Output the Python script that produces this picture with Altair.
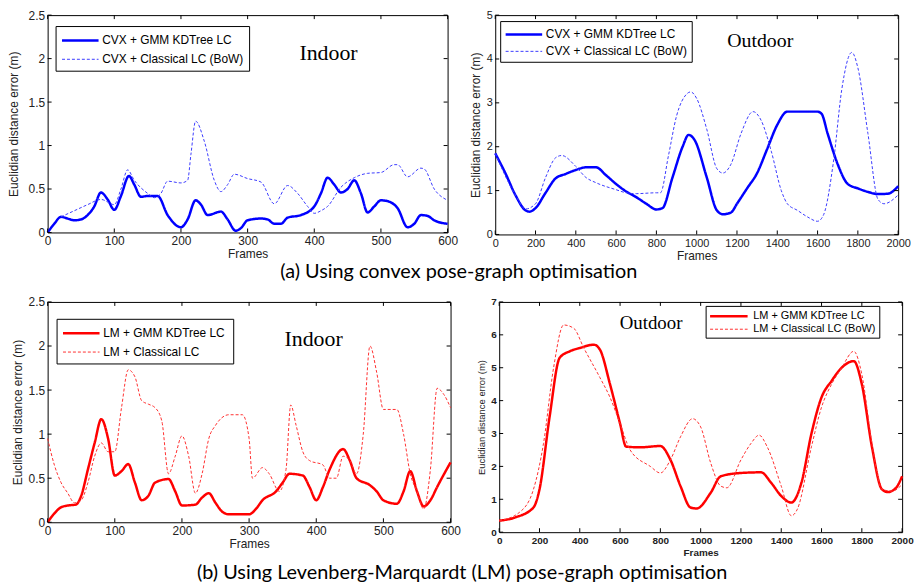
import altair as alt
import pandas as pd

# ---------------- (a) CVX, Indoor ----------------
a_in_gmm_x = [0, 10, 20, 30, 40, 50, 60, 70, 80, 90, 100, 110, 122, 130, 140, 150, 165, 180, 200, 210, 222, 230, 240,
              260, 270, 282, 290, 300, 320, 330, 340, 350, 360, 380, 400, 410, 420, 430, 440, 450, 460, 470, 480, 490,
              500, 510, 525, 540, 550, 560, 570, 580, 600]
a_in_gmm_y = [0.0, 0.1, 0.18, 0.16, 0.14, 0.15, 0.2, 0.3, 0.46, 0.38, 0.26, 0.42, 0.65, 0.55, 0.41, 0.42, 0.42, 0.2,
              0.06, 0.15, 0.37, 0.32, 0.2, 0.24, 0.15, 0.02, 0.05, 0.14, 0.16, 0.15, 0.1, 0.1, 0.17, 0.2, 0.3, 0.45,
              0.63, 0.55, 0.46, 0.5, 0.6, 0.45, 0.23, 0.3, 0.37, 0.36, 0.28, 0.06, 0.1, 0.2, 0.19, 0.14, 0.1]
a_in_bow_x = [20, 40, 60, 80, 100, 110, 120, 130, 150, 160, 170, 180, 200, 210, 215, 222, 235, 250, 260, 270, 280,
              300, 320, 340, 360, 375, 390, 400, 410, 420, 440, 460, 480, 500, 520, 525, 540, 560, 565, 580, 600]
a_in_bow_y = [0.18, 0.25, 0.32, 0.38, 0.32, 0.5, 0.72, 0.6, 0.45, 0.4, 0.45, 0.59, 0.57, 0.6, 0.9, 1.28, 1.05, 0.6,
              0.47, 0.55, 0.67, 0.62, 0.58, 0.33, 0.54, 0.45, 0.3, 0.22, 0.25, 0.3, 0.52, 0.63, 0.68, 0.69, 0.78, 0.78,
              0.64, 0.74, 0.73, 0.5, 0.37]

# ---------------- (a) CVX, Outdoor ----------------
a_out_gmm_x = [0, 50, 100, 150, 170, 200, 250, 300, 350, 400, 450, 500, 550, 600, 650, 700, 750, 800, 830, 880, 930,
               960, 990, 1050, 1100, 1130, 1170, 1200, 1250, 1300, 1350, 1400, 1450, 1500, 1600, 1620, 1650, 1700,
               1750, 1800, 1850, 1900, 1950, 2000]
a_out_gmm_y = [1.85, 1.4, 0.9, 0.55, 0.52, 0.6, 0.95, 1.28, 1.38, 1.47, 1.53, 1.53, 1.35, 1.15, 0.98, 0.85, 0.7, 0.57,
               0.6, 1.3, 2.0, 2.27, 2.15, 1.3, 0.55, 0.46, 0.5, 0.7, 1.05, 1.4, 1.95, 2.5, 2.8, 2.8, 2.8, 2.75, 2.3,
               1.6, 1.15, 1.05, 0.97, 0.92, 0.93, 1.1]
a_out_bow_x = [0, 100, 150, 200, 250, 300, 330, 400, 450, 500, 600, 650, 700, 800, 820, 860, 900, 950, 970, 1000, 1050,
               1100, 1130, 1170, 1220, 1280, 1320, 1370, 1420, 1450, 1500, 1550, 1600, 1630, 1680, 1720, 1770, 1800,
               1850, 1900, 1930, 2000]
a_out_bow_y = [1.85, 0.9, 0.58, 0.7, 1.3, 1.75, 1.8, 1.55, 1.3, 1.18, 1.02, 0.95, 0.93, 0.95, 0.95, 1.8, 2.7, 3.2, 3.25,
               3.1, 2.4, 1.5, 1.4, 1.6, 2.3, 2.8, 2.6, 1.9, 1.0, 0.7, 0.55, 0.4, 0.3, 0.45, 1.7, 3.3, 4.15, 3.8, 2.3,
               0.8, 0.7, 0.9]

# ---------------- (b) LM, Indoor ----------------
b_in_gmm_x = [0, 10, 20, 30, 42, 50, 60, 70, 80, 90, 100, 110, 120, 130, 140, 150, 160, 180, 190, 200, 220, 230, 240,
              250, 260, 270, 300, 310, 320, 340, 350, 360, 380, 390, 400, 410, 420, 440, 450, 460, 480, 490, 500, 520,
              530, 540, 550, 560, 570, 580, 600]
b_in_gmm_y = [0.0, 0.1, 0.17, 0.19, 0.2, 0.3, 0.6, 0.9, 1.17, 0.95, 0.53, 0.58, 0.66, 0.45, 0.25, 0.3, 0.45, 0.49,
              0.35, 0.19, 0.2, 0.28, 0.33, 0.22, 0.12, 0.09, 0.09, 0.15, 0.25, 0.35, 0.45, 0.55, 0.53, 0.4, 0.25, 0.4,
              0.6, 0.83, 0.7, 0.5, 0.42, 0.35, 0.25, 0.21, 0.35, 0.58, 0.35, 0.18, 0.25, 0.4, 0.68]
b_in_bow_x = [0, 10, 20, 30, 40, 50, 60, 70, 80, 90, 100, 110, 120, 130, 140, 150, 160, 170, 180, 190, 200, 210, 220,
              230, 240, 250, 270, 290, 300, 305, 320, 330, 345, 355, 362, 370, 380, 390, 410, 420, 430, 440, 450, 460,
              470, 480, 490, 500, 520, 530, 540, 550, 560, 570, 580, 590, 600]
b_in_bow_y = [0.95, 0.65, 0.45, 0.33, 0.22, 0.25, 0.45, 0.75, 0.9, 0.8, 0.8, 1.3, 1.73, 1.65, 1.38, 1.34, 1.3, 1.15,
              0.55, 0.75, 0.98, 0.75, 0.33, 0.55, 0.95, 1.1, 1.22, 1.22, 0.95, 0.5, 0.62, 0.55, 0.35, 0.6, 1.33, 1.1,
              0.8, 0.7, 0.65, 0.5, 0.5, 0.75, 0.7, 0.55, 1.0, 2.0, 1.7, 1.28, 1.28, 1.0, 0.55, 0.35, 0.15, 0.6, 1.52,
              1.45, 1.3]

# ---------------- (b) LM, Outdoor ----------------
b_out_gmm_x = [0, 80, 170, 200, 250, 300, 350, 400, 470, 500, 550, 600, 630, 700, 800, 850, 900, 950, 980, 1050, 1100,
               1200, 1300, 1350, 1400, 1450, 1500, 1550, 1600, 1650, 1700, 1760, 1800, 1850, 1900, 1930, 1970, 2000]
b_out_gmm_y = [0.35, 0.45, 0.75, 1.3, 3.5, 5.3, 5.5, 5.6, 5.7, 5.55, 4.5, 3.3, 2.6, 2.58, 2.62, 2.2, 1.4, 0.75, 0.72,
               1.2, 1.7, 1.8, 1.82, 1.5, 1.1, 0.9, 1.5, 3.0, 4.1, 4.6, 5.0, 5.2, 4.5, 2.6, 1.3, 1.22, 1.35, 1.7]
b_out_bow_x = [0, 100, 170, 220, 270, 320, 370, 420, 500, 550, 600, 650, 750, 800, 850, 900, 960, 1000, 1050, 1100,
               1130, 1200, 1250, 1290, 1330, 1400, 1450, 1480, 1550, 1600, 1650, 1700, 1760, 1800, 1850, 1900, 1950,
               2000]
b_out_bow_y = [0.35, 0.6, 1.3, 2.7, 5.0, 6.3, 6.2, 5.6, 4.7, 4.1, 3.3, 2.5, 2.0, 1.8, 2.2, 2.9, 3.45, 3.2, 2.1, 1.4,
               1.35, 2.2, 2.7, 2.95, 2.6, 1.4, 0.5, 0.7, 2.6, 3.8, 4.5, 5.0, 5.5, 4.8, 2.7, 1.3, 1.25, 1.45]

# tick values
ticks_x_in = [0, 100, 200, 300, 400, 500, 600]
ticks_x_out = [0, 200, 400, 600, 800, 1000, 1200, 1400, 1600, 1800, 2000]
ticks_y_in = [0, 0.5, 1, 1.5, 2, 2.5]
ticks_y_out_a = [0, 1, 2, 3, 4, 5]
ticks_y_out_b = [0, 1, 2, 3, 4, 5, 6, 7]

labels_a_in = ["CVX + GMM KDTree LC", "CVX + Classical LC (BoW)"]
labels_b_in = ["LM  + GMM KDTree LC", "LM  + Classical LC"]
labels_b_out = ["LM + GMM KDTree LC", "LM + Classical LC (BoW)"]

BLUE = ["#0000ff", "#3b3bff"]
RED = ["#ff0000", "#ff3030"]

SANS = "Liberation Sans"
SERIF = "Liberation Serif"


def panel(gx, gy, bx, by, labels, colors, xmax, ymax, xt, yt, w, h, place, place_xy, place_size,
          leg_xy, leg_font=12, lab_size=12, lab_weight="normal", ytitle_size=12, xtitle_size=12,
          ytitle_pad=4, leg_row=4, leg_pad=5, sym_size=256, sym_path="M-1,0L3.6,0", lab_off=23):
    df = pd.concat([
        pd.DataFrame({"frame": gx, "err": gy, "series": labels[0]}),
        pd.DataFrame({"frame": bx, "err": by, "series": labels[1]}),
    ])
    leg = alt.Legend(title=None, orient="none", legendX=leg_xy[0], legendY=leg_xy[1],
                     fillColor="white", strokeColor="black", padding=leg_pad,
                     symbolType=sym_path, symbolSize=sym_size, labelFont=SANS, labelFontSize=leg_font,
                     labelColor="black", labelLimit=400, rowPadding=leg_row, labelOffset=lab_off)
    xs = alt.Scale(domain=[0, xmax], nice=False, zero=False)
    ys = alt.Scale(domain=[0, ymax], nice=False, zero=False)
    xaxis = alt.Axis(values=xt, format="d", title="Frames", labelFont=SANS, labelFontSize=lab_size,
                     labelFontWeight=lab_weight, titleFont=SANS, titleFontSize=xtitle_size,
                     titleFontWeight=lab_weight, labelColor="#222", titleColor="#222",
                     domain=False, ticks=False, grid=False, labelPadding=3, titlePadding=2,
                     labelFlush=False)
    yaxis = alt.Axis(values=yt, format="~g", title="Euclidian distance error (m)", labelFont=SANS,
                     labelFontSize=lab_size, labelFontWeight=lab_weight, titleFont=SANS,
                     titleFontSize=ytitle_size, titleFontWeight="normal", labelColor="#222",
                     titleColor="#222", domain=False, ticks=False, grid=False, labelPadding=3,
                     titlePadding=ytitle_pad, labelFlush=False)
    lines = alt.Chart(df).mark_line(interpolate="monotone").encode(
        x=alt.X("frame:Q", scale=xs, axis=xaxis),
        y=alt.Y("err:Q", scale=ys, axis=yaxis),
        color=alt.Color("series:N", scale=alt.Scale(domain=labels, range=colors), legend=leg),
        strokeDash=alt.StrokeDash("series:N", scale=alt.Scale(domain=labels, range=[[1, 0], [3, 2]]), legend=leg),
        strokeWidth=alt.StrokeWidth("series:N", scale=alt.Scale(domain=labels, range=[2.5, 1]), legend=leg),
    )
    tx = pd.DataFrame({"frame": xt})
    ty = pd.DataFrame({"err": yt})
    tk = 4
    bottom = alt.Chart(tx).mark_rule(color="black", strokeWidth=1).encode(
        x=alt.X("frame:Q", scale=xs, axis=xaxis), y=alt.value(h), y2=alt.value(h - tk))
    top = alt.Chart(tx).mark_rule(color="black", strokeWidth=1).encode(
        x=alt.X("frame:Q", scale=xs, axis=xaxis), y=alt.value(0), y2=alt.value(tk))
    left = alt.Chart(ty).mark_rule(color="black", strokeWidth=1).encode(
        y=alt.Y("err:Q", scale=ys, axis=yaxis), x=alt.value(0), x2=alt.value(tk))
    right = alt.Chart(ty).mark_rule(color="black", strokeWidth=1).encode(
        y=alt.Y("err:Q", scale=ys, axis=yaxis), x=alt.value(w), x2=alt.value(w - tk))
    label = alt.Chart(pd.DataFrame({"t": [place]})).mark_text(
        font=SERIF, fontSize=place_size, color="black", align="center",
        baseline="middle").encode(text="t:N", x=alt.value(place_xy[0]), y=alt.value(place_xy[1]))
    return alt.layer(lines, bottom, top, left, right, label).resolve_scale(
        color="independent", strokeDash="independent", strokeWidth="independent"
    ).properties(width=w, height=h)


p1 = panel(a_in_gmm_x, a_in_gmm_y, a_in_bow_x, a_in_bow_y, labels_a_in, BLUE, 600, 2.5,
           ticks_x_in, ticks_y_in, 403, 219, "Indoor", (283, 38), 22, (8, 11), ytitle_pad=8)
p2 = panel(a_out_gmm_x, a_out_gmm_y, a_out_bow_x, a_out_bow_y, labels_a_in, BLUE, 2000, 5,
           ticks_x_out, ticks_y_out_a, 406, 221, "Outdoor", (267, 26), 20, (5, 6), lab_size=11,
           leg_row=2, leg_pad=4)
p3 = panel(b_in_gmm_x, b_in_gmm_y, b_in_bow_x, b_in_bow_y, labels_b_in, RED, 600, 2.5,
           ticks_x_in, ticks_y_in, 406, 222, "Indoor", (268, 37), 22, (9, 17))
p4 = panel(b_out_gmm_x, b_out_gmm_y, b_out_bow_x, b_out_bow_y, labels_b_out, RED, 2000, 7,
           ticks_x_out, ticks_y_out_b, 406, 232, "Outdoor", (153, 21), 19, (208, 4),
           leg_font=11, lab_size=10, lab_weight="bold", ytitle_size=9.5, xtitle_size=10,
           leg_row=1, leg_pad=3, sym_size=144, sym_path="M-1,0L5.3,0", lab_off=30)

CAP = dict(orient="bottom", anchor="middle", font="Lato", fontSize=20, fontWeight="normal", color="black")
row1 = alt.hconcat(p1, p2, spacing=10).resolve_scale(
    color="independent", strokeDash="independent", strokeWidth="independent").properties(
    title=alt.TitleParams("(a) Using convex pose-graph optimisation", offset=0, **CAP))
row2 = alt.hconcat(p3, p4, spacing=14).resolve_scale(
    color="independent", strokeDash="independent", strokeWidth="independent").properties(
    title=alt.TitleParams("(b) Using Levenberg-Marquardt (LM) pose-graph optimisation", offset=6, **CAP))

chart = alt.vconcat(row1, row2, spacing=13).resolve_scale(
    color="independent", strokeDash="independent", strokeWidth="independent").properties(
    padding={"left": 6, "top": 6, "right": 4, "bottom": 2}, background="white"
).configure_view(stroke="black", strokeWidth=1)

chart.save("out.html", embed_options={"renderer": "svg", "actions": False})
